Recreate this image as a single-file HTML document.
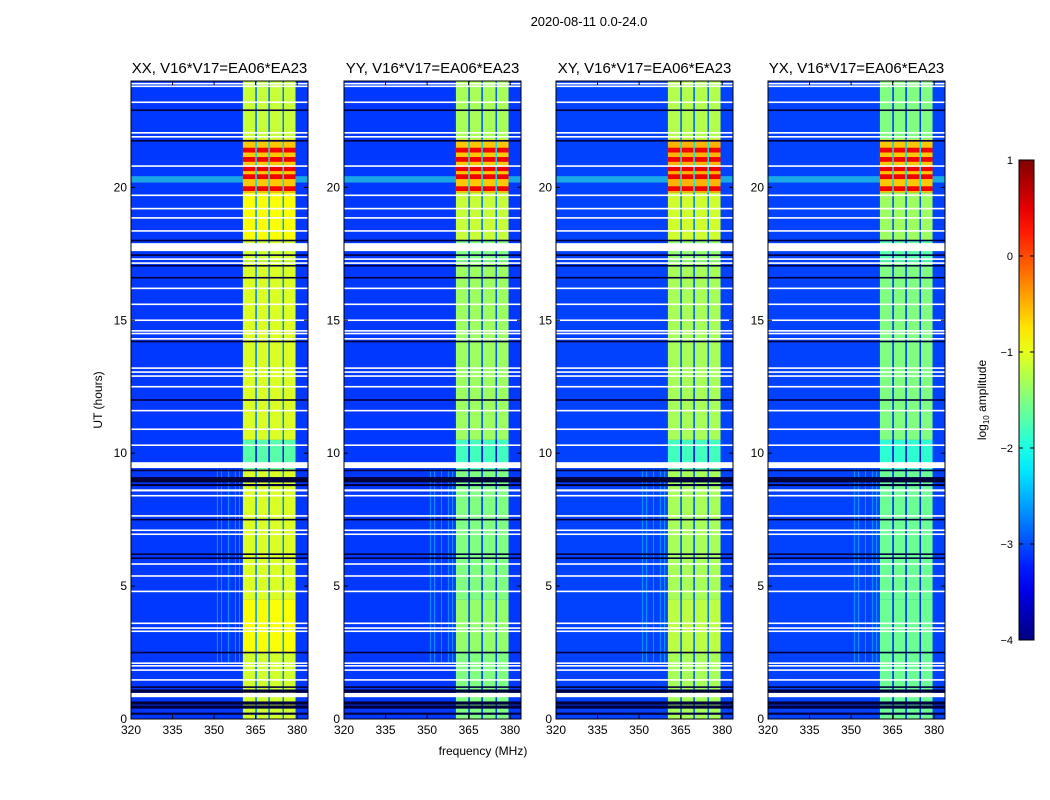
<!DOCTYPE html>
<html><head><meta charset="utf-8">
<style>
html,body{margin:0;padding:0;background:#fff;}
svg{display:block;font-family:"Liberation Sans",sans-serif;}
</style></head>
<body>
<svg id="fig" width="1050" height="800" viewBox="0 0 1050 800">
<text x="589" y="26" font-size="13" text-anchor="middle">2020-08-11 0.0-24.0</text>
<text x="483" y="755" font-size="12" text-anchor="middle">frequency (MHz)</text>
<text x="102" y="400" font-size="12" text-anchor="middle" transform="rotate(-90 102 400)">UT (hours)</text>
<g id="panels"></g>
<g id="cbar"></g>
</svg>
<script>
// ---- data ----
const panelTitles = ["XX, V16*V17=EA06*EA23","YY, V16*V17=EA06*EA23","XY, V16*V17=EA06*EA23","YX, V16*V17=EA06*EA23"];
const xTicks = [320,335,350,365,380];
const yTicks = [0,5,10,15,20];
const cbTicks = [1,0,-1,-2,-3,-4];
const bgLevel = [-3.1,-3.1,-3.05,-3.05];
const bandCols = [[360.4,364.9],[365.4,369.6],[370.1,374.7],[375.2,379.4]];
const segEdges = [0,2.5,4.5,9.4,10.5,17.2,18.0,19.8,21.8,24];
const bandLevelsP1 = [-1.1,-0.9,-1.05,-1.7,-1.05,-1.1,-0.9,-0.6,-1.15];
const bandLevelsP2 = [-1.5,-1.4,-1.5,-1.8,-1.35,-1.5,-1.15,-0.6,-1.3];
const bandLevelsP3 = [-1.3,-1.2,-1.3,-1.8,-1.3,-1.4,-1.1,-0.5,-1.25];
const bandLevelsP4 = [-1.6,-1.6,-1.6,-1.9,-1.5,-1.7,-1.35,-0.6,-1.5];
const hotRows = [19.95,20.4,20.7,21.05,21.4];
const hotLevel = 0.45;
const vLines = [351,352.5,355,357.5,359];
const vLineLevel = -2.2;
const rfiRowHour = 20.3;
const rfiRowLevel = -1.9;
const whiteRows = [23.9,23.8,23.2,22.05,21.9,20.8,19.7,19.2,18.85,18.36,17.75,17.3,17.15,16.2,15.6,15.0,14.6,14.5,14.3,13.2,13.05,12.9,12.5,11.6,10.9,10.3,9.55,8.6,8.4,7.64,7.1,6.95,5.83,5.38,4.8,3.6,3.42,3.3,2.1,2.0,1.84,1.47,0.9];
const whiteWidths = [0.06,0.06,0.06,0.06,0.06,0.06,0.06,0.06,0.06,0.06,0.3,0.06,0.06,0.06,0.06,0.06,0.06,0.06,0.06,0.06,0.06,0.06,0.06,0.06,0.06,0.06,0.22,0.08,0.06,0.06,0.06,0.06,0.06,0.06,0.06,0.06,0.06,0.06,0.06,0.06,0.06,0.06,0.16];
const blackRows = [22.9,21.75,18.0,17.45,17.05,16.6,14.2,12.0,9.35,9.0,8.8,7.5,6.2,6.05,2.5,1.2,1.05,0.6,0.45,0.2];
const blackWidths = [0.06,0.06,0.06,0.06,0.06,0.06,0.06,0.06,0.06,0.2,0.08,0.06,0.06,0.06,0.06,0.06,0.12,0.12,0.12,0.08];
const bandAll = [bandLevelsP1,bandLevelsP2,bandLevelsP3,bandLevelsP4];
// ---- layout ----
const panelLeft = [131,344,556,768];
const panelW = 177, plotTop = 81, plotBottom = 719;
const fmin = 320, fmax = 383.9, tmin = 0, tmax = 24;
const vmin = -4, vmax = 1;
function jet(v){
  let t=(v-vmin)/(vmax-vmin); t=Math.max(0,Math.min(1,t));
  const f=x=>Math.max(0,Math.min(1,x));
  const r=f(Math.min(4*t-1.5,-4*t+4.5)), g=f(Math.min(4*t-0.5,-4*t+3.5)), b=f(Math.min(4*t+0.5,-4*t+2.5));
  return `rgb(${Math.round(r*255)},${Math.round(g*255)},${Math.round(b*255)})`;
}
const NS="http://www.w3.org/2000/svg";
function el(tag,attrs,parent){const e=document.createElementNS(NS,tag);for(const k in attrs)e.setAttribute(k,attrs[k]);parent.appendChild(e);return e;}
const panels=document.getElementById('panels');
panelTitles.forEach((title,p)=>{
  const x0=panelLeft[p];
  const xs=f=>x0+(f-fmin)/(fmax-fmin)*panelW;
  const ys=h=>plotBottom-(h-tmin)/(tmax-tmin)*(plotBottom-plotTop);
  const g=el('g',{},panels);
  
  
  const bg=el('rect',{x:x0,y:plotTop,width:panelW,height:plotBottom-plotTop,fill:jet(bgLevel[p])},g);
  
  
  vLines.forEach(f=>{
    const r=el('rect',{x:xs(f),y:ys(9.4),width:1,height:ys(2.1)-ys(9.4),fill:jet(vLineLevel),opacity:0.5},g);
    
    
  });
  const rr=el('rect',{x:x0,y:ys(rfiRowHour+0.12),width:panelW,height:ys(rfiRowHour-0.12)-ys(rfiRowHour+0.12),fill:jet(rfiRowLevel),opacity:0.55},g);
  
  
  const lv=bandAll[p];
  for(let s=0;s<segEdges.length-1;s++){
    bandCols.forEach(c=>{
      const r=el('rect',{x:xs(c[0]),y:ys(segEdges[s+1]),width:xs(c[1])-xs(c[0]),height:ys(segEdges[s])-ys(segEdges[s+1]),fill:jet(lv[s])},g);
      
      
    });
    for(let c=0;c<bandCols.length-1;c++){
      const r=el('rect',{x:xs(bandCols[c][1]),y:ys(segEdges[s+1]),width:xs(bandCols[c+1][0])-xs(bandCols[c][1]),height:ys(segEdges[s])-ys(segEdges[s+1]),fill:jet(lv[s]-1.6)},g);
      
      
    }
  }
  hotRows.forEach(h=>{
    bandCols.forEach(c=>{
      const r=el('rect',{x:xs(c[0]),y:ys(h+0.09),width:xs(c[1])-xs(c[0]),height:ys(h-0.09)-ys(h+0.09),fill:jet(hotLevel)},g);
      
      
    });
  });
  whiteRows.forEach((h,i)=>{
    const w=whiteWidths[i];
    const r=el('rect',{x:x0,y:ys(h+w/2),width:panelW,height:Math.max(1.5,ys(h-w/2)-ys(h+w/2)),fill:'#fff'},g);
    
    
  });
  blackRows.forEach((h,i)=>{
    const w=blackWidths[i];
    const r=el('rect',{x:x0,y:ys(h+w/2),width:panelW,height:Math.max(1.2,ys(h-w/2)-ys(h+w/2)),fill:'#00003a'},g);
    
    
  });
  const fr=el('rect',{x:x0,y:plotTop,width:panelW,height:plotBottom-plotTop,fill:'none',stroke:'#000','stroke-width':1},g);
  
  
  const t=el('text',{x:x0+panelW/2,y:plotTop-8,'font-size':15,'text-anchor':'middle'},g);
  t.textContent=title;
  
  
  xTicks.forEach(v=>{
    const x=xs(v);
    el('line',{x1:x,x2:x,y1:plotBottom,y2:plotBottom-4,stroke:'#000'},g);
    el('line',{x1:x,x2:x,y1:plotTop,y2:plotTop+4,stroke:'#000'},g);
    const tx=el('text',{x:x,y:plotBottom+15,'font-size':12,'text-anchor':'middle'},g);
    tx.textContent=v;
    
    
  });
  yTicks.forEach(v=>{
    const y=ys(v);
    el('line',{x1:x0,x2:x0+4,y1:y,y2:y,stroke:'#000'},g);
    el('line',{x1:x0+panelW,x2:x0+panelW-4,y1:y,y2:y,stroke:'#000'},g);
    const ty=el('text',{x:x0-4,y:y+4,'font-size':12,'text-anchor':'end'},g);
    ty.textContent=v;
    
    
  });
});
const cb=document.getElementById('cbar');
const cbx=1019,cbw=15,cbt=160,cbb=640;
const defs=el('defs',{},cb);
const lg=el('linearGradient',{id:'jetgrad',x1:0,y1:1,x2:0,y2:0},defs);
for(let i=0;i<=20;i++){el('stop',{offset:i/20,'stop-color':jet(vmin+(vmax-vmin)*i/20)},lg);}
el('rect',{x:cbx,y:cbt,width:cbw,height:cbb-cbt,fill:'url(#jetgrad)',stroke:'#000'},cb);
cbTicks.forEach(v=>{
  const y=cbb-(v-vmin)/(vmax-vmin)*(cbb-cbt);
  el('line',{x1:cbx,x2:cbx+4,y1:y,y2:y,stroke:'#000'},cb);
  el('line',{x1:cbx+cbw,x2:cbx+cbw-4,y1:y,y2:y,stroke:'#000'},cb);
  const t=el('text',{x:cbx-6,y:y+4,'font-size':11,'text-anchor':'end'},cb);
  t.textContent=(v<0?'\u2212'+(-v):v);
  
  
});
const cl=el('text',{x:986,y:400,'font-size':12,'text-anchor':'middle',transform:'rotate(-90 986 400)'},cb);
cl.innerHTML='log<tspan font-size="8" dy="3">10</tspan><tspan dy="-3"> amplitude</tspan>';


</script>
</body></html>
